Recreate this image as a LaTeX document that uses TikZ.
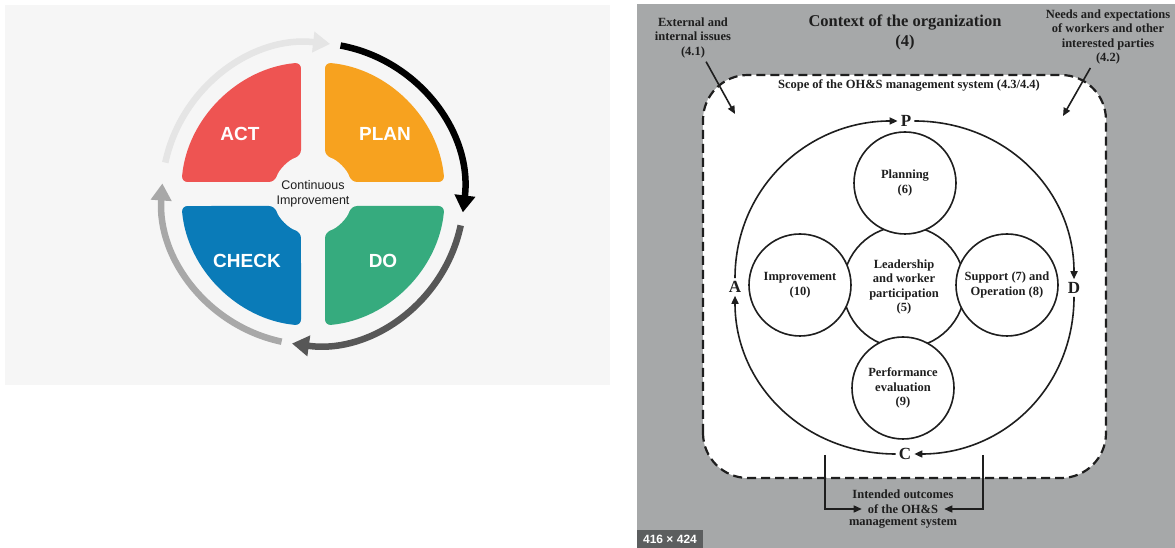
\documentclass[tikz,border=0pt]{standalone}
\usepackage{fontspec}
\usepackage{tikz}
\usetikzlibrary{arrows.meta}
\newfontfamily\pdcafont{Liberation Sans}
\newfontfamily\ohsfont{Liberation Serif}
\definecolor{bgleft}{HTML}{F6F6F6}
\definecolor{bgright}{HTML}{A6A8A9}
\definecolor{actred}{HTML}{EE5452}
\definecolor{planorange}{HTML}{F7A21F}
\definecolor{checkblue}{HTML}{0A7BB8}
\definecolor{dogreen}{HTML}{36AB7E}
\definecolor{ink}{HTML}{1E1E1E}
\definecolor{tagdark}{HTML}{5C5E5F}

\begin{document}
\begin{tikzpicture}[x=1pt,y=1pt]
\tikzstyle{quad}=[text=white,font=\pdcafont\bfseries\fontsize{19}{19}\selectfont]
\tikzstyle{ring}=[-{Triangle[length=17pt,width=20pt]},line width=6.5pt]
\tikzstyle{stage}=[circle,draw=ink,fill=white,line width=1.6pt,minimum size=102pt,inner sep=0pt,align=center,text=ink,font=\ohsfont\bfseries\fontsize{12.5}{14.5}\selectfont]
\tikzstyle{letter}=[inner sep=3pt,text=ink,font=\ohsfont\bfseries\fontsize{17}{17}\selectfont]
\tikzstyle{note}=[align=center,text=ink,font=\ohsfont\bfseries\fontsize{12.5}{14.5}\selectfont]
\tikzstyle{cycle}=[-{Triangle[length=8pt,width=7pt]},line width=1.6pt,draw=ink]

\useasboundingbox (0,0) rectangle (1175,548);
\fill[white] (0,0) rectangle (1175,548);

% Left picture: PDCA wheel
\fill[bgleft] (5,163) rectangle (610,543);
\foreach \rot/\col in {0/planorange,90/actred,180/checkblue,270/dogreen}
  \fill[\col,rounded corners=6pt,shift={(313,354)},rotate=\rot]
    (12,131.45) arc[start angle=84.78,end angle=5.22,radius=132pt]
    -- (38.16,12) arc[start angle=17.46,end angle=72.54,radius=40pt] -- cycle;

\node (ACT) [quad] at (240,414) {ACT};
\node (PLAN) [quad] at (385,414) {PLAN};
\node (CHK) [quad] at (247,287) {CHECK};
\node (DO) [quad] at (383,287) {DO};
\node (CI) [align=center,text=ink,font=\pdcafont\fontsize{12.5}{15}\selectfont] at (313,354) {Continuous\\Improvement};

% arrows round the wheel
\draw[ring,black] (313,354) ++(79.5:151pt) arc[start angle=79.5,end angle=-7,radius=151pt];
\draw[ring,black!66] (313,354) ++(-12:151pt) arc[start angle=-12,end angle=-98,radius=151pt];
\draw[ring,black!34] (313,354) ++(-102:151pt) arc[start angle=-102,end angle=-184,radius=151pt];
\draw[ring,black!10] (313,354) ++(168:151pt) arc[start angle=168,end angle=83.5,radius=151pt];

% Right picture: OH&S system
\fill[bgright] (637,0) rectangle (1175,544);
\draw[ink,fill=white,line width=2.2pt,dash pattern=on 9pt off 5pt,rounded corners=45pt] (703,70) rectangle (1106,473);

\node (CTX) [note,font=\ohsfont\bfseries\fontsize{16.5}{20}\selectfont] at (905,516) {Context of the organization\\(4)};
\node (EXT) [note] at (693,510) {External and\\internal issues\\(4.1)};
\node (NEEDS) [note] at (1108,511) {Needs and expectations\\of workers and other\\interested parties\\(4.2)};
\node (SCOPE) [note] at (909,463) {Scope of the OH\&S management system (4.3/4.4)};

% Stages
\node (LEAD) [stage,minimum size=122pt] at (904,261) {Leadership\\and worker\\participation\\(5)};
\node (PLNG) [stage] at (905,365) {Planning\\(6)};
\node (IMPR) [stage] at (800,263) {Improvement\\(10)};
\node (SUPP) [stage] at (1007,263) {Support (7) and\\Operation (8)};
\node (PERF) [stage] at (903,160) {Performance\\evaluation\\(9)};

% P D C A
\node (RP) [letter] at (906,427) {P};
\node (RD) [letter] at (1074,260) {D};
\node (RC) [letter] at (905,94) {C};
\node (RA) [letter] at (735,261) {A};

\draw[cycle] (RA.north) .. controls +(up:90pt) and +(left:90pt) .. (RP.west);
\draw[cycle] (RP.east) .. controls +(right:90pt) and +(up:90pt) .. (RD.north);
\draw[cycle] (RD.south) .. controls +(down:90pt) and +(right:90pt) .. (RC.east);
\draw[cycle] (RC.west) .. controls +(left:90pt) and +(down:90pt) .. (RA.south);

% Issues in, outcomes out
\coordinate (extin) at (735,434);
\coordinate (needin) at (1063,432);
\draw[cycle] (EXT) -- (extin);
\draw[cycle] (NEEDS) -- (needin);

\node (OUTMID) [note,inner sep=6pt] at (903,39) {of the OH\&S};
\node (OUTTOP) [note] at (903,54) {Intended outcomes};
\node (OUTBOT) [note] at (903,25) {management system};
\coordinate (outL) at (825,93);
\coordinate (outR) at (983,93);
\draw[cycle,line width=1.3pt] (outL) |- (OUTMID.west);
\draw[cycle,line width=1.3pt] (outR) |- (OUTMID.east);

\node (SIZE) [fill=tagdark,text=white,minimum width=66pt,minimum height=18pt,inner sep=0pt,font=\pdcafont\bfseries\fontsize{12}{12}\selectfont] at (670,9) {416 × 424};
\end{tikzpicture}
\end{document}
